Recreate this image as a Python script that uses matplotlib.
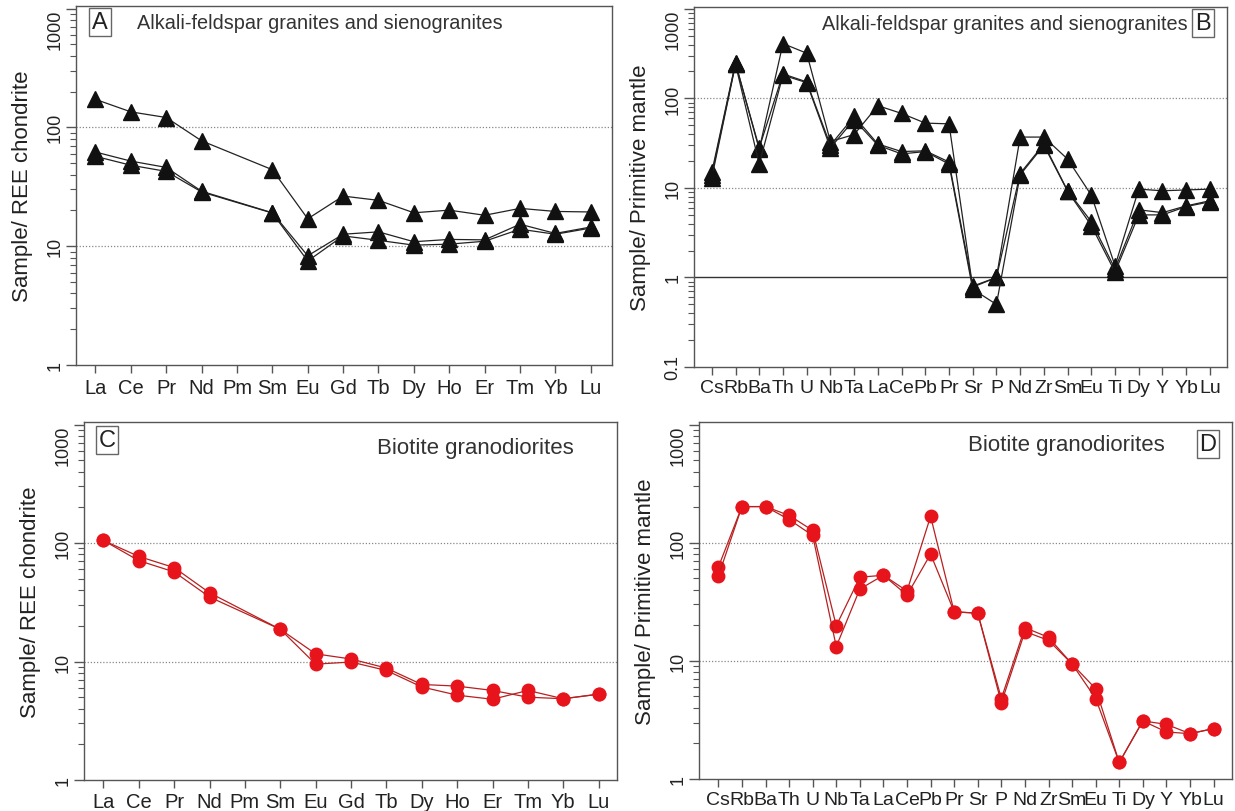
import matplotlib
matplotlib.use("Agg")
import matplotlib.pyplot as plt
from matplotlib.ticker import LogLocator, NullFormatter, FixedLocator, FixedFormatter

plt.rcParams['font.family'] = ['Liberation Sans', 'DejaVu Sans']

ree = ["La", "Ce", "Pr", "Nd", "Pm", "Sm", "Eu", "Gd", "Tb", "Dy", "Ho", "Er", "Tm", "Yb", "Lu"]
spider = ["Cs", "Rb", "Ba", "Th", "U", "Nb", "Ta", "La", "Ce", "Pb", "Pr", "Sr",
          "P", "Nd", "Zr", "Sm", "Eu", "Ti", "Dy", "Y", "Yb", "Lu"]

# A - alkali-feldspar granites and sienogranites, chondrite normalised (no Pm)
ree_afg_1 = [172, 135, 121, 77, None, 44, 17, 26.4, 24.3, 19.1, 20.1, 18.2, 20.8, 19.6, 19.4]
ree_afg_2 = [62, 52, 46, 29, None, 19.1, 8.3, 12.6, 13.2, 10.9, 11.4, 11.3, 15.3, 12.8, 14.5]
ree_afg_3 = [57, 48, 42.6, 28.6, None, 19, 7.5, 12.2, 11.2, 10.2, 10.4, 11.0, 13.9, 12.6, 14.2]

# B - same samples, primitive mantle normalised
pm_afg_1 = [15, 250, 27, 410, 320, 33, 39.5, 83, 68, 53, 52, 0.78,
            1.0, 37, 37, 21, 8.3, 1.35, 9.7, 9.3, 9.5, 9.7]
pm_afg_2 = [14, 245, 28, 188, 153, 30, 63, 31, 25.5, 26, 19.5, 0.8,
            1.0, 14.5, 31, 9.3, 4.2, 1.25, 5.7, 5.3, 6.3, 7.2]
pm_afg_3 = [13, 240, 18.5, 182, 150, 28, 58, 30, 24, 25.5, 18.5, 0.74,
            0.5, 14, 30, 9.2, 3.8, 1.15, 5.0, 5.0, 6.2, 7.0]

# C - biotite granodiorites, chondrite normalised
ree_bgd_1 = [105, 77, 62, 38, None, 18.7, 11.6, 10.5, 8.8, 6.4, 6.2, 5.7, 5.0, 4.85, 5.3]
ree_bgd_2 = [105, 71, 57, 35, None, 18.7, 9.5, 9.9, 8.4, 6.1, 5.2, 4.8, 5.7, 4.85, 5.3]

# D - biotite granodiorites, primitive mantle normalised
pm_bgd_1 = [62, 202, 202, 170, 127, 19.8, 51, 53, 39, 167, 26, 25.3,
            4.8, 19.1, 15.8, 9.4, 5.8, 1.38, 3.1, 2.9, 2.42, 2.67]
pm_bgd_2 = [52, 202, 202, 157, 115, 13.2, 40.5, 53, 36, 80, 26, 25.3,
            4.4, 17.7, 14.9, 9.4, 4.8, 1.38, 3.1, 2.5, 2.42, 2.67]

TEXT = "#222222"
SPINE = "#555555"


def draw_series(ax, values, style):
    xs = [i for i, v in enumerate(values) if v is not None]
    ys = [v for v in values if v is not None]
    ax.plot(xs, ys, **style)


def setup_axes(ax, labels, ymin, ylabel, xpad, xsize):
    ax.set_yscale("log")
    ax.set_ylim(ymin, 1050)
    ax.set_xlim(-xpad[0], len(labels) - 1 + xpad[1])
    ax.set_xticks(range(len(labels)))
    ax.set_xticklabels(labels, fontsize=xsize, color=TEXT)
    majors = [t for t in [0.1, 1, 10, 100, 1000] if t >= ymin]
    ax.yaxis.set_major_locator(FixedLocator(majors))
    ax.yaxis.set_major_formatter(FixedFormatter([("%g" % t) for t in majors]))
    ax.yaxis.set_minor_locator(LogLocator(base=10, subs=range(2, 10)))
    ax.yaxis.set_minor_formatter(NullFormatter())
    ax.tick_params(axis="x", direction="out", length=6, width=1, color=SPINE, pad=3)
    ax.tick_params(axis="y", which="major", direction="out", length=7, width=1,
                   color=SPINE, labelsize=13, labelcolor=TEXT, pad=2)
    ax.tick_params(axis="y", which="minor", direction="out", length=4, width=0.8, color=SPINE)
    for lab in ax.get_yticklabels():
        lab.set_rotation(90)
        lab.set_va("top" if lab.get_text() == "1000" else "center")
    for sp in ax.spines.values():
        sp.set_color(SPINE)
        sp.set_linewidth(1.0)
    for g in [10, 100]:
        ax.axhline(g, color="#888888", linestyle=(0, (1, 1.5)), linewidth=0.9, zorder=0)
    ax.set_ylabel(ylabel, fontsize=16, color=TEXT, labelpad=10)


def panel_tag(ax, letter, x, y):
    ax.text(x, y, letter, transform=ax.transAxes, fontsize=17, color=TEXT,
            ha="center", va="center",
            bbox=dict(boxstyle="square,pad=0.12", facecolor="white",
                      edgecolor="#666666", linewidth=1.0))


tri = dict(color="#222222", linewidth=0.9, marker="^", markersize=11,
           markerfacecolor="#111111", markeredgecolor="#111111")
dot = dict(color="#b82020", linewidth=0.9, marker="o", markersize=9,
           markerfacecolor="#e8141c", markeredgecolor="#e8141c")

fig = plt.figure(figsize=(12.35, 8.12), dpi=100)
W, H = 1235.0, 812.0


def add_axes(l, r, t, b):
    return fig.add_axes([l / W, 1 - b / H, (r - l) / W, (b - t) / H])


axA = add_axes(76, 612, 7, 366)
axB = add_axes(694, 1227, 8, 368)
axC = add_axes(84, 617, 423, 781)
axD = add_axes(699, 1232, 423, 780)

# A
setup_axes(axA, ree, 1, "Sample/ REE chondrite", (0.55, 0.6), 14.5)
for s in [ree_afg_1, ree_afg_2, ree_afg_3]:
    draw_series(axA, s, tri)
panel_tag(axA, "A", 0.045, 0.955)
axA.text(0.114, 0.955, "Alkali-feldspar granites and sienogranites", transform=axA.transAxes,
         fontsize=14.3, color="#333333", ha="left", va="center")

# B
setup_axes(axB, spider, 0.1, "Sample/ Primitive mantle", (0.75, 0.72), 14)
axB.axhline(1, color="#333333", linewidth=1.0, zorder=0)
for s in [pm_afg_1, pm_afg_2, pm_afg_3]:
    draw_series(axB, s, tri)
panel_tag(axB, "B", 0.955, 0.955)
axB.text(0.926, 0.955, "Alkali-feldspar granites and sienogranites", transform=axB.transAxes,
         fontsize=14.3, color="#333333", ha="right", va="center")

# C
setup_axes(axC, ree, 1, "Sample/ REE chondrite", (0.55, 0.52), 14.5)
for s in [ree_bgd_1, ree_bgd_2]:
    draw_series(axC, s, dot)
panel_tag(axC, "C", 0.043, 0.95)
axC.text(0.55, 0.93, "Biotite granodiorites", transform=axC.transAxes,
         fontsize=16, color="#333333", ha="left", va="center")

# D
setup_axes(axD, spider, 1, "Sample/ Primitive mantle", (0.82, 0.78), 14)
for s in [pm_bgd_1, pm_bgd_2]:
    draw_series(axD, s, dot)
panel_tag(axD, "D", 0.955, 0.938)
axD.text(0.505, 0.938, "Biotite granodiorites", transform=axD.transAxes,
         fontsize=16, color="#333333", ha="left", va="center")

fig.savefig("out.png", dpi=100)
